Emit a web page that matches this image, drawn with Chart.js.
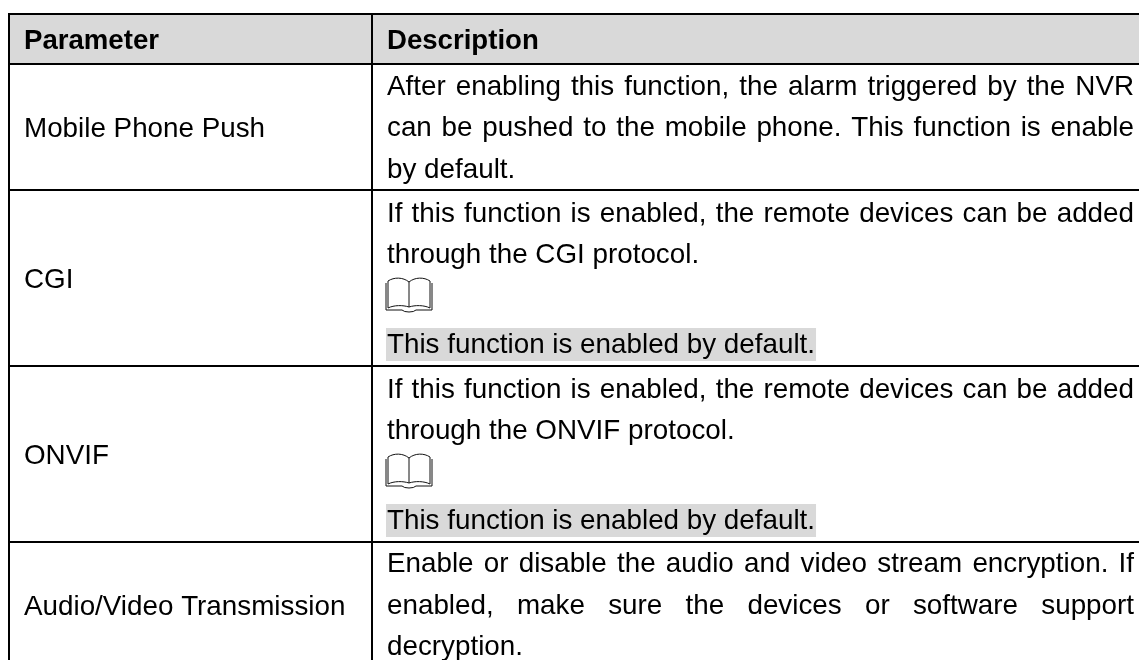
<!DOCTYPE html>
<html>
<head>
<meta charset="utf-8">
<title>Parameter table</title>
<script src="https://cdn.jsdelivr.net/npm/chart.js@4"></script>
<style>
  html, body { margin: 0; padding: 0; background: #fff; }
  canvas { display: block; }
</style>
</head>
<body>
<canvas id="chart" width="1139" height="660"></canvas>
<script>
const headers = ['Parameter', 'Description'];
const parameters = ['Mobile Phone Push', 'CGI', 'ONVIF', 'Audio/Video Transmission'];
const descriptions = [
    ['After enabling this function, the alarm triggered by the NVR',
     'can be pushed to the mobile phone. This function is enable',
     'by default.'],
    ['If this function is enabled, the remote devices can be added',
     'through the CGI protocol.'],
    ['If this function is enabled, the remote devices can be added',
     'through the ONVIF protocol.'],
    ['Enable or disable the audio and video stream encryption. If',
     'enabled, make sure the devices or software support',
     'decryption.']
];
const notes = [null, 'This function is enabled by default.', 'This function is enabled by default.', null];

// page layout, in pixels of the picture
const GREY = '#d9d9d9';
const FONT = '27.8px "Liberation Sans", Arial, sans-serif';
const BOLD = 'bold 27.6px "Liberation Sans", Arial, sans-serif';
const colLeft = 9, colMid = 372, colRight = 1139, tableTop = 14, tableBottom = 660;
const rowLines = [64, 190, 366, 542];
const textLeft = [24, 387], textRight = 1134;
const headerBase = 49;
const paramBase = [137, 288, 464, 615];
const lineBase = [[95, 136, 178], [222, 263], [398, 439], [572, 614, 655]];
const iconTop = [null, 277, 453, null];
const noteBand = [null, [328, 361], [504, 537], null];
const noteBase = [null, 353, 529, null];

function drawBook(ctx, x, y) {
    ctx.save();
    ctx.strokeStyle = '#111';
    ctx.lineWidth = 1;
    ctx.beginPath();
    ctx.moveTo(x + 23, y + 5);
    ctx.bezierCurveTo(x + 17, y, x + 8, y, x + 2, y + 4);
    ctx.lineTo(x + 2, y + 31);
    ctx.bezierCurveTo(x + 8, y + 28, x + 17, y + 28, x + 23, y + 30);
    ctx.bezierCurveTo(x + 29, y + 28, x + 38, y + 28, x + 44, y + 31);
    ctx.lineTo(x + 44, y + 4);
    ctx.bezierCurveTo(x + 38, y, x + 29, y, x + 23, y + 5);
    ctx.lineTo(x + 23, y + 30);
    ctx.moveTo(x, y + 6);
    ctx.lineTo(x, y + 33);
    ctx.lineTo(x + 16, y + 33);
    ctx.quadraticCurveTo(x + 18, y + 35, x + 23, y + 35);
    ctx.quadraticCurveTo(x + 28, y + 35, x + 30, y + 33);
    ctx.lineTo(x + 46, y + 33);
    ctx.lineTo(x + 46, y + 6);
    ctx.stroke();
    ctx.restore();
}

function fillJustified(ctx, line, x, right, y) {
    const words = line.split(' ');
    const total = words.reduce((sum, w) => sum + ctx.measureText(w).width, 0);
    const gap = (right - x - total) / (words.length - 1);
    let cur = x;
    words.forEach(w => {
        ctx.fillText(w, cur, y);
        cur += ctx.measureText(w).width + gap;
    });
}

const tablePlugin = {
    id: 'tablePlugin',
    afterDraw(chart) {
        const { ctx, scales: { x, y } } = chart;
        const px = v => x.getPixelForValue(v);
        const py = v => y.getPixelForValue(v);
        const hRule = v => ctx.fillRect(px(colLeft - 1), py(v - 1), px(colRight) - px(colLeft - 1), 2);
        const vRule = v => ctx.fillRect(px(v - 1), py(tableTop - 1), 2, py(tableBottom) - py(tableTop - 1));

        ctx.save();
        ctx.fillStyle = GREY;
        ctx.fillRect(px(colLeft), py(tableTop), px(colRight) - px(colLeft), py(rowLines[0]) - py(tableTop));
        ctx.textBaseline = 'alphabetic';

        // highlighted note lines
        ctx.font = FONT;
        notes.forEach((note, i) => {
            if (!note) return;
            ctx.fillStyle = GREY;
            ctx.fillRect(px(textLeft[1] - 1), py(noteBand[i][0]), ctx.measureText(note).width + 2, py(noteBand[i][1]) - py(noteBand[i][0]));
        });

        ctx.fillStyle = '#000';
        hRule(tableTop);
        rowLines.forEach(hRule);
        vRule(colLeft);
        vRule(colMid);

        ctx.font = BOLD;
        headers.forEach((h, i) => ctx.fillText(h, px(textLeft[i]), py(headerBase)));

        ctx.font = FONT;
        parameters.forEach((p, i) => {
            ctx.fillText(p, px(textLeft[0]), py(paramBase[i]));
            descriptions[i].forEach((line, j) => {
                if (j < descriptions[i].length - 1) {
                    fillJustified(ctx, line, px(textLeft[1]), px(textRight), py(lineBase[i][j]));
                } else {
                    ctx.fillText(line, px(textLeft[1]), py(lineBase[i][j]));
                }
            });
            if (notes[i]) {
                drawBook(ctx, px(textLeft[1] - 1), py(iconTop[i]));
                ctx.fillText(notes[i], px(textLeft[1]), py(noteBase[i]));
            }
        });
        ctx.restore();
    }
};

new Chart(document.getElementById('chart').getContext('2d'), {
    type: 'scatter',
    data: { datasets: [] },
    plugins: [tablePlugin],
    options: {
        responsive: false,
        animation: false,
        layout: { padding: 0 },
        plugins: {
            legend: { display: false },
            tooltip: { enabled: false }
        },
        scales: {
            x: { type: 'linear', min: 0, max: 1139, display: false },
            y: { type: 'linear', min: 0, max: 660, reverse: true, display: false }
        }
    }
});
</script>
</body>
</html>
